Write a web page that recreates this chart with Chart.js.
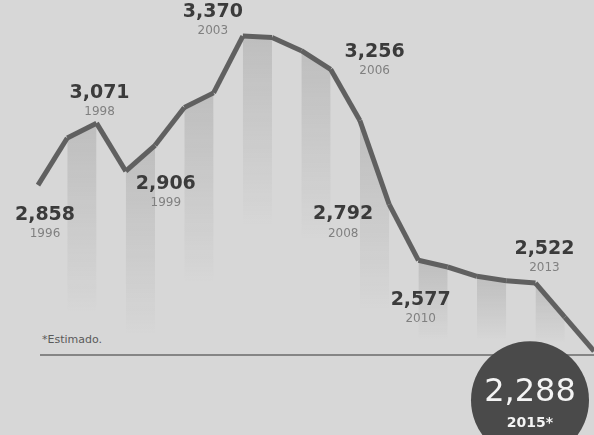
<!DOCTYPE html>
<html>
<head>
<meta charset="utf-8">
<script src="https://cdn.jsdelivr.net/npm/chart.js@4/dist/chart.umd.min.js"></script>
<style>
    html, body { margin: 0; padding: 0; }
    body { width: 594px; height: 435px; overflow: hidden; background: #d7d7d7; position: relative; font-family: "DejaVu Sans", sans-serif; }
    #rule { position: absolute; left: 40px; top: 354px; width: 554px; height: 2px; background: #858585; }
    #note { position: absolute; left: 42px; top: 333px; font-size: 11px; color: #5a5a5a; }
    #chart { position: absolute; left: 0; top: 0; }
</style>
</head>
<body>
<div id="rule"></div>
<div id="note">*Estimado.</div>
<canvas id="chart" width="594" height="435"></canvas>
<script>
var years = ['1996', '1997', '1998', '1999', '2000', '2001', '2002', '2003', '2004', '2005',
    '2006', '2007', '2008', '2009', '2010', '2011', '2012', '2013', '2014', '2015'];
var values = [2858, 3020, 3071, 2906, 2995, 3125, 3175, 3370, 3365, 3320,
    3256, 3080, 2792, 2600, 2577, 2545, 2530, 2522, 2405, 2288];
var labelYears = ['1996', '1998', '1999', '2003', '2006', '2008', '2010', '2013'];
var highlightYear = '2015';
var highlightSuffix = '*';

// where each value label sits relative to its point (dx, dy)
var labelOffsets = [[7, 30], [3, -30], [40, 13], [-30, -24], [44, -17], [-46, 10], [-27, 33], [9, -34]];

function fmt(v) {
    return v.toLocaleString('en-US');
}

function bandColor(c) {
    // shaded column every other year, fading down from the line
    if (c.p0DataIndex % 2 !== 1) return 'rgba(0,0,0,0)';
    var top = Math.min(c.p0.y, c.p1.y);
    var end = Math.max(top + 60, Math.min(top + 190, 340));
    var g = c.chart.ctx.createLinearGradient(0, top, 0, end);
    g.addColorStop(0, 'rgba(70,70,70,0.17)');
    g.addColorStop(1, 'rgba(70,70,70,0)');
    return g;
}

var labelPlugin = {
    id: 'pointLabels',
    afterDatasetsDraw: function (chart) {
        var ctx = chart.ctx;
        var pts = chart.getDatasetMeta(0).data;
        ctx.save();
        ctx.textAlign = 'center';
        ctx.textBaseline = 'middle';
        labelYears.forEach(function (yr, i) {
            var idx = years.indexOf(yr);
            var p = pts[idx];
            var x = p.x + labelOffsets[i][0];
            var y = p.y + labelOffsets[i][1];
            ctx.fillStyle = '#3b3b3b';
            ctx.font = 'bold 19px "DejaVu Sans"';
            ctx.fillText(fmt(values[idx]), x, y);
            ctx.fillStyle = '#808080';
            ctx.font = '12px "DejaVu Sans"';
            ctx.fillText(yr, x, y + 19);
        });

        var hi = years.indexOf(highlightYear);
        var hp = pts[hi];
        var cx = hp.x - 64, cy = hp.y + 49;
        ctx.beginPath();
        ctx.arc(cx, cy, 59, 0, Math.PI * 2);
        ctx.fillStyle = '#4a4a4a';
        ctx.fill();
        ctx.fillStyle = '#f4f4f4';
        ctx.font = '32px "DejaVu Sans"';
        ctx.fillText(fmt(values[hi]), cx, cy - 7);
        ctx.font = 'bold 14px "DejaVu Sans"';
        ctx.fillText(highlightYear + highlightSuffix, cx, cy + 23);
        ctx.restore();
    }
};

new Chart(document.getElementById('chart'), {
    type: 'line',
    data: {
        labels: years,
        datasets: [{
            data: values,
            borderColor: '#606060',
            borderWidth: 5,
            borderJoinStyle: 'round',
            tension: 0,
            pointRadius: 0,
            fill: 'start',
            backgroundColor: 'rgba(0,0,0,0)',
            segment: { backgroundColor: bandColor }
        }]
    },
    options: {
        responsive: false,
        animation: false,
        layout: { padding: { left: 38, right: 0, top: 0, bottom: 0 } },
        plugins: { legend: { display: false }, tooltip: { enabled: false } },
        scales: {
            x: { display: false, offset: false },
            y: { display: false, min: 2000, max: 3494 }
        }
    },
    plugins: [labelPlugin]
});
</script>
</body>
</html>
